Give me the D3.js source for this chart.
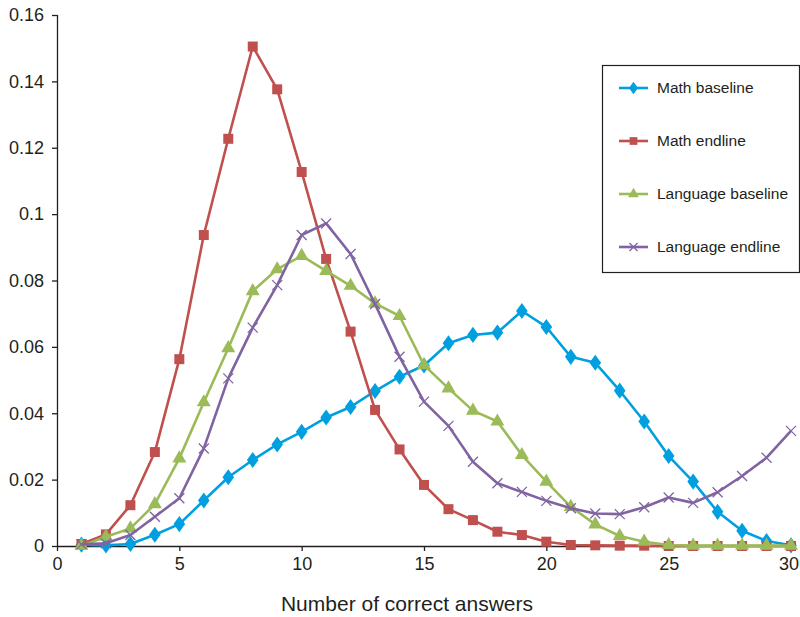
<!DOCTYPE html>
<html>
<head>
<meta charset="utf-8">
<script src="https://cdn.jsdelivr.net/npm/d3@7"></script>
<style>
  body { margin: 0; background: #fff; }
  text { font-family: "Liberation Sans", Arial, sans-serif; fill: #231f20; }
</style>
</head>
<body>
<script>
var scores = d3.range(1, 31);
var mathBaseline = [0.0004, 0.0002, 0.0006, 0.0034, 0.0066, 0.0137, 0.0207, 0.0259, 0.0306, 0.0344,
  0.0387, 0.0419, 0.0467, 0.0510, 0.0544, 0.0611, 0.0636, 0.0643, 0.0708, 0.0660,
  0.0570, 0.0552, 0.0468, 0.0375, 0.0271, 0.0194, 0.0103, 0.0046, 0.0015, 0.0002];
var mathEndline = [0.0006, 0.0035, 0.0123, 0.0283, 0.0563, 0.0937, 0.1227, 0.1505, 0.1376, 0.1127,
  0.0865, 0.0646, 0.0410, 0.0291, 0.0184, 0.0111, 0.0078, 0.0043, 0.0033, 0.0013,
  0.0003, 0.0002, 0.0001, 0.0001, 0.0000, 0.0000, 0.0000, 0.0000, 0.0000, 0.0000];
var langBaseline = [0.0001, 0.0028, 0.0053, 0.0126, 0.0264, 0.0433, 0.0596, 0.0768, 0.0834, 0.0874,
  0.0829, 0.0784, 0.0731, 0.0693, 0.0545, 0.0475, 0.0408, 0.0375, 0.0274, 0.0194,
  0.0118, 0.0065, 0.0030, 0.0013, 0.0003, 0.0001, 0.0001, 0.0001, 0.0001, 0.0001];
var langEndline = [0.0005, 0.0008, 0.0033, 0.0088, 0.0144, 0.0294, 0.0505, 0.0658, 0.0786, 0.0937,
  0.0972, 0.0880, 0.0729, 0.0570, 0.0435, 0.0362, 0.0254, 0.0189, 0.0163, 0.0136,
  0.0114, 0.0098, 0.0096, 0.0117, 0.0146, 0.0130, 0.0162, 0.0211, 0.0266, 0.0347];
var seriesNames = ["Math baseline", "Math endline", "Language baseline", "Language endline"];
var xTicks = [0, 5, 10, 15, 20, 25, 30];
var yTicks = [0, 0.02, 0.04, 0.06, 0.08, 0.1, 0.12, 0.14, 0.16];

var series = [
  { name: seriesNames[0], values: mathBaseline, color: "#00a0e0", marker: d3.symbolDiamond, size: 75 },
  { name: seriesNames[1], values: mathEndline, color: "#c0504d", marker: d3.symbolSquare, size: 100 },
  { name: seriesNames[2], values: langBaseline, color: "#9bbb59", marker: d3.symbolTriangle, size: 85 },
  { name: seriesNames[3], values: langEndline, color: "#8064a2", marker: "x", size: 5 }
];

var svg = d3.select("body").append("svg")
  .attr("width", 800)
  .attr("height", 617);

var x = d3.scaleLinear().domain([0, 30]).range([57, 791]);
var y = d3.scaleLinear().domain([0, 0.16]).range([546, 15]);

// axes
svg.append("g")
  .attr("transform", "translate(0,546)")
  .call(d3.axisBottom(x).tickValues(xTicks).tickSize(5).tickPadding(6).tickFormat(d3.format("d")))
  .call(function(g) { g.selectAll("text").attr("font-size", 18).style("font-family", "Liberation Sans, Arial, sans-serif"); })
  .call(function(g) { g.selectAll("text").filter(function(d) { return d === 30; }).attr("dx", -2.5); })
  .call(function(g) { g.selectAll("path, line").attr("stroke", "#231f20").attr("stroke-width", 1.3); });

svg.append("g")
  .attr("transform", "translate(57,0)")
  .call(d3.axisLeft(y).tickValues(yTicks).tickSize(5).tickPadding(8).tickFormat(function(d) { return d === 0 ? "0" : d3.format("")(+d.toFixed(2)); }))
  .call(function(g) { g.selectAll("text").attr("font-size", 18).style("font-family", "Liberation Sans, Arial, sans-serif"); })
  .call(function(g) { g.selectAll("path, line").attr("stroke", "#231f20").attr("stroke-width", 1.3); });

svg.selectAll(".domain").attr("d", function() {
  return d3.select(this.parentNode).attr("transform") === "translate(0,546)" ? "M57,0.5H791" : "M0.5,15V546";
});

svg.append("text")
  .attr("x", 407).attr("y", 611)
  .attr("text-anchor", "middle")
  .attr("font-size", 21)
  .text("Number of correct answers");

var line = d3.line()
  .x(function(d, i) { return x(scores[i]); })
  .y(function(d) { return y(d); });

function drawMarker(g, s, cx, cy) {
  if (s.marker === "x") {
    var r = s.size;
    g.append("path")
      .attr("d", "M" + (cx - r) + "," + (cy - r) + "L" + (cx + r) + "," + (cy + r) + "M" + (cx - r) + "," + (cy + r) + "L" + (cx + r) + "," + (cy - r))
      .attr("stroke", s.color).attr("stroke-width", 1.3).attr("fill", "none");
  } else {
    g.append("path")
      .attr("d", d3.symbol().type(s.marker).size(s.size)())
      .attr("transform", "translate(" + cx + "," + cy + ")" + (s.marker === d3.symbolDiamond ? " scale(1.25,1)" : ""))
      .attr("fill", s.color);
  }
}

series.forEach(function(s) {
  var g = svg.append("g");
  g.append("path")
    .datum(s.values)
    .attr("d", line)
    .attr("fill", "none")
    .attr("stroke", s.color)
    .attr("stroke-width", 2.6)
    .attr("stroke-linejoin", "round");
  s.values.forEach(function(v, i) {
    drawMarker(g, s, x(scores[i]), y(v));
  });
});

// legend
var legend = svg.append("g");
legend.append("rect")
  .attr("x", 602.5).attr("y", 65.5)
  .attr("width", 197).attr("height", 207)
  .attr("fill", "#fff").attr("stroke", "#231f20").attr("stroke-width", 1.2);

series.forEach(function(s, i) {
  var ly = 88 + i * 53;
  legend.append("line")
    .attr("x1", 619).attr("x2", 648).attr("y1", ly).attr("y2", ly)
    .attr("stroke", s.color).attr("stroke-width", 2.6);
  var ms = { marker: s.marker, color: s.color, size: s.marker === "x" ? 4 : s.size * 0.6 };
  drawMarker(legend, ms, 633.5, ly);
  legend.append("text")
    .attr("x", 657).attr("y", ly + 5)
    .attr("font-size", 15.5)
    .text(s.name);
});
</script>
</body>
</html>
